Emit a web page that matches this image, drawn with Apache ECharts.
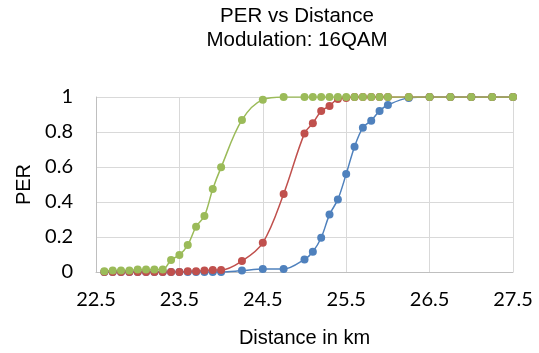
<!DOCTYPE html>
<html>
<head>
<meta charset="utf-8">
<script src="https://cdn.jsdelivr.net/npm/echarts@6/dist/echarts.min.js"></script>
<style>
html,body{margin:0;padding:0;background:#fff;}
#chart{width:539px;height:353px;}
</style>
</head>
<body>
<div id="chart"></div>
<script>
var titleText = "PER vs Distance\nModulation: 16QAM";
var xAxisName = "Distance in km";
var yAxisName = "PER";
var seriesNames = ["Series1", "Series2", "Series3"];

var distance = [22.6, 22.7, 22.8, 22.9, 23.0, 23.1, 23.2, 23.3, 23.4, 23.5, 23.6, 23.7, 23.8, 23.9, 24.0,
  24.25, 24.5, 24.75, 25.0, 25.1, 25.2, 25.3, 25.4, 25.5, 25.6, 25.7, 25.8, 25.9, 26.0,
  26.25, 26.5, 26.75, 27.0, 27.25, 27.5];

var perBlue = [0, 0, 0, 0, 0, 0, 0, 0, 0, 0, 0, 0, 0, 0, 0,
  0.008, 0.017, 0.017, 0.072, 0.116, 0.196, 0.328, 0.415, 0.56, 0.716, 0.825, 0.865, 0.92, 0.954,
  0.995, 1, 1, 1, 1, 1];

var perRed = [0, 0, 0, 0, 0, 0, 0, 0, 0, 0, 0.004, 0.005, 0.008, 0.012, 0.012,
  0.063, 0.167, 0.446, 0.792, 0.85, 0.92, 0.949, 0.989, 0.995, 1, 1, 1, 1, 1,
  1, 1, 1, 1, 1, 1];

var perGreen = [0.005, 0.008, 0.008, 0.008, 0.015, 0.015, 0.015, 0.015, 0.069, 0.097, 0.154, 0.259, 0.32, 0.474, 0.598,
  0.869, 0.985, 1, 1, 1, 1, 1, 1, 1, 1, 1, 1, 1, 1,
  1, 1, 1, 1, 1, 1];

var colors = ["#4F81BD", "#C0504D", "#9BBB59"];

function pairs(xs, ys) {
  var out = [];
  for (var i = 0; i < xs.length; i++) out.push([xs[i], ys[i]]);
  return out;
}

function makeSeries(name, ys, color) {
  return {
    name: name,
    type: "line",
    smooth: 0.35,
    data: pairs(distance, ys),
    symbol: "circle",
    symbolSize: 8,
    showAllSymbol: true,
    lineStyle: { color: color, width: 1.5 },
    itemStyle: { color: color, borderWidth: 0 },
    emphasis: { disabled: true },
    animation: false
  };
}

var chart = echarts.init(document.getElementById("chart"), null, { renderer: "canvas" });
chart.setOption({
  backgroundColor: "#ffffff",
  animation: false,
  title: {
    text: titleText,
    left: 297,
    top: 4,
    textAlign: "center",
    padding: 0,
    textStyle: {
      fontFamily: "Liberation Sans, Arial, sans-serif",
      fontSize: 20.5,
      fontWeight: "normal",
      color: "#000000",
      lineHeight: 24
    }
  },
  grid: { left: 96, right: 26, top: 97, bottom: 81, containLabel: false },
  xAxis: {
    type: "value",
    min: 22.5,
    max: 27.5,
    interval: 1,
    name: xAxisName,
    nameLocation: "middle",
    nameGap: 56,
    nameTextStyle: { fontFamily: "Liberation Sans, Arial, sans-serif", fontSize: 20, color: "#000000" },
    axisLine: { show: true, lineStyle: { color: "#BFBFBF", width: 1 } },
    axisTick: { show: false },
    axisLabel: {
      margin: 18,
      fontFamily: "Lato, sans-serif",
      fontSize: 20,
      color: "#000000",
      formatter: function (v) { return v.toFixed(1); }
    },
    splitLine: { show: true, lineStyle: { color: "#D9D9D9", width: 1 } }
  },
  yAxis: {
    type: "value",
    min: 0,
    max: 1,
    interval: 0.2,
    name: yAxisName,
    nameLocation: "middle",
    nameGap: 60,
    nameTextStyle: { fontFamily: "Liberation Sans, Arial, sans-serif", fontSize: 20, color: "#000000" },
    axisLine: { show: true, lineStyle: { color: "#BFBFBF", width: 1 } },
    axisTick: { show: false },
    axisLabel: {
      margin: 23,
      fontFamily: "Lato, sans-serif",
      fontSize: 20,
      color: "#000000"
    },
    splitLine: { show: true, lineStyle: { color: "#D9D9D9", width: 1 } }
  },
  series: [
    makeSeries(seriesNames[0], perBlue, colors[0]),
    makeSeries(seriesNames[1], perRed, colors[1]),
    makeSeries(seriesNames[2], perGreen, colors[2])
  ]
});
</script>
</body>
</html>
